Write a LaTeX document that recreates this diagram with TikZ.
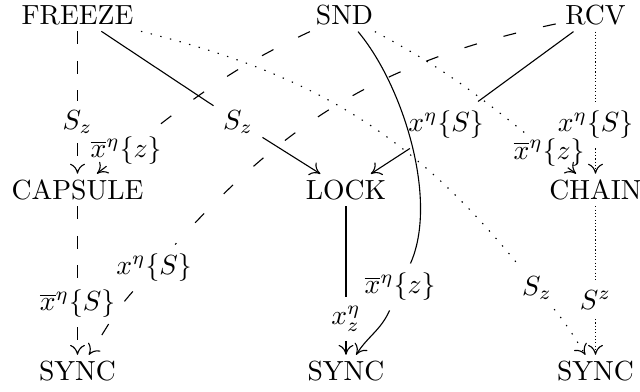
\documentclass[tikz,border=0pt]{standalone}
\usetikzlibrary{arrows.meta}
\begin{document}
\begin{tikzpicture}[x=0.3617pt,y=0.3617pt,
  obj/.style={inner xsep=3.3pt,inner ysep=2pt},
  lab/.style={inner sep=3.3pt},
  tightlab/.style={inner sep=0.3pt},
  arr/.style={-{Computer Modern Rightarrow[length=3.6pt,width=5.4pt]}},
  sdash/.style={dash pattern=on 4.7pt off 6pt},
  cdash/.style={dash pattern=on 4.7pt off 10pt},
  sdot/.style={dash pattern=on 0.4pt off 0.8pt},
  cdot/.style={dash pattern=on 0.5pt off 3.1pt},
]
\useasboundingbox (0,0) rectangle (640,392);

% objects
\node[obj] (freeze)  at (77.5,376.5) {FREEZE};
\node[obj] (snd)     at (344.5,376.5) {SND};
\node[obj] (rcv)     at (595.5,376.5) {RCV};
\node[obj] (capsule) at (77.5,202) {CAPSULE};
\node[obj] (lock)    at (346,202) {LOCK};
\node[obj] (chain)   at (595.5,202) {CHAIN};
\node[obj] (sync1)   at (77.5,21) {SYNC};
\node[obj] (sync2)   at (346,21) {SYNC};
\node[obj] (sync3)   at (595.5,21) {SYNC};

% labels sitting in the gaps of their arrows
\node[lab] (l1)  at (77.5,270) {$S_z$};
\node[lab] (l2)  at (238,270) {$S_z$};
\node[lab] (l3)  at (446,267) {$x^{\eta}\{S\}$};
\node[lab] (l4)  at (595.5,267) {$x^{\eta}\{S\}$};
\node[lab] (l5)  at (77.5,88) {$\overline{x}^{\eta}\{S\}$};
\node[lab] (l6)  at (346,73) {$x^{\eta}_{z}$};
\node[lab] (l7)  at (595.5,92) {$S^z$};
\node[tightlab] (l8) at (126,241) {$\overline{x}^{\eta}\{z\}$};
\node[lab] (l9)  at (154,124) {$x^{\eta}\{S\}$};
\node[lab] (l10) at (537,104) {$S_z$};
\node[tightlab] (l11) at (549,239.5) {$\overline{x}^{\eta}\{z\}$};
\node[lab] (l12) at (400,105) {$\overline{x}^{\eta}\{z\}$};

% straight arrows
\draw[sdash] (freeze) -- (l1);
\draw[sdash,arr] (l1) -- (capsule);
\draw (freeze) -- (l2);
\draw[arr] (l2) -- (lock);
\draw (rcv) -- (l3);
\draw[arr] (l3) -- (lock);
\draw[sdot] (rcv) -- (l4);
\draw[sdot,arr] (l4) -- (chain);
\draw[sdash] (capsule) -- (l5);
\draw[sdash,arr] (l5) -- (sync1);
\draw (lock) -- (l6);
\draw[arr] (l6) -- (sync2);
\draw[sdot] (chain) -- (l7);
\draw[sdot,arr] (l7) -- (sync3);

% curved arrows
\draw[cdash] (snd) to[out=205,in=38] (l8);
\draw[arr] (l8) to[out=218,in=40] (capsule);
\draw[cdash] (rcv) to[out=192,in=48] (l9);
\draw[cdash,arr] (l9) to[out=228,in=55] (sync1);
\draw[cdot] (freeze) to[out=-14,in=129] (l10);
\draw[cdot,arr] (l10) to[out=-51,in=122] (sync3);
\draw[cdot] (snd) to[out=-28,in=141] (l11);
\draw[arr] (l11) to[out=-39,in=140] (chain);
\draw (snd) to[out=-50,in=66,looseness=0.75] (l12);
\draw[arr] (l12) to[out=246,in=58] (sync2);
\end{tikzpicture}
\end{document}
